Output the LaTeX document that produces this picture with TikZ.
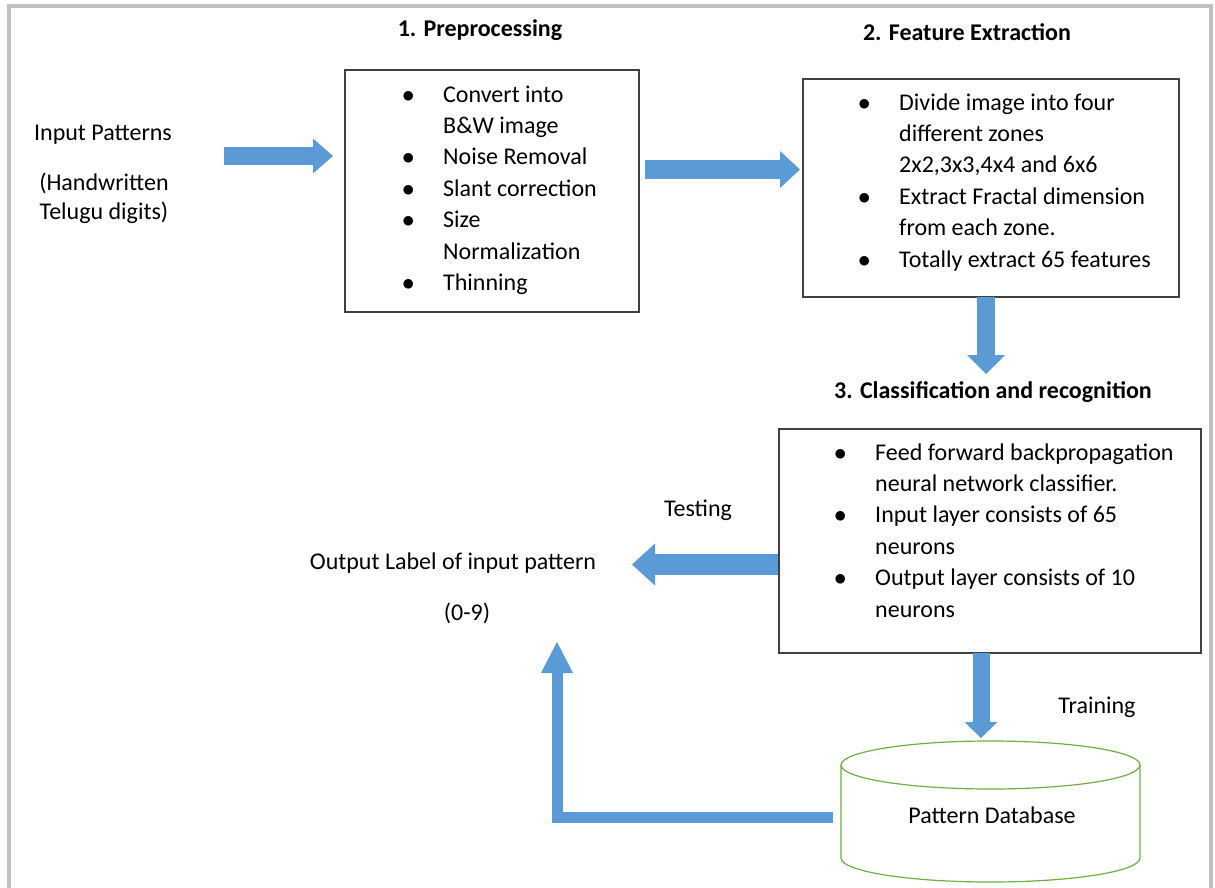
\documentclass[tikz,border=0pt]{standalone}
\usepackage{fontspec}
\setmainfont{Carlito}
\usetikzlibrary{arrows.meta}
\definecolor{arrowblue}{RGB}{91,155,213}
\definecolor{dbgreen}{RGB}{112,173,71}
\definecolor{framegray}{RGB}{192,192,192}

\begin{document}
\begin{tikzpicture}[x=1pt,y=-1pt]

\tikzset{
  every node/.style = {font = \fontsize{24}{31.4}\selectfont},
  TitleStyle/.style = {font = \fontsize{24}{31.4}\selectfont\bfseries},
  BoxStyle/.style = {rectangle, draw = black!75, line width = 1.4pt,
                     inner sep = 0pt},
  ListStyle/.style = {inner sep = 0pt, anchor = north west},
  FatArrow/.style n args = {3}{draw = arrowblue, line width = #1,
     -{Triangle[length = #2, width = #3, line width = 0pt]}},
  DbStyle/.style = {draw = dbgreen, line width = 1.2pt} }

  \useasboundingbox (0,0) rectangle (1215,888);
  \draw[framegray, line width = 4pt] (8.5,892) -- (8.5,6.5) -- (1211,6.5) -- (1211,892);

  \node[TitleStyle] (t1) at (480,30) {1. Preprocessing};
  \node[TitleStyle] (t2) at (967,32) {2. Feature Extraction};
  \node[TitleStyle] (t3) at (993,392) {3. Classification and recognition};

  \node (inp) at (103,135) {Input Patterns};
  \node[align = center, font = \fontsize{24}{29}\selectfont] (hw) at (104,198)
       {(Handwritten\\Telugu digits)};

  \node[BoxStyle, minimum width = 294pt, minimum height = 242pt] (pre) at (492,191) {};
  \node[BoxStyle, minimum width = 376pt, minimum height = 218pt] (fe) at (991,188) {};
  \node[BoxStyle, minimum width = 422pt, minimum height = 224pt] (cls) at (990,541) {};

  \node[ListStyle] (prelist) at (402,80) {\begin{tabular}{@{}p{41pt}@{}l@{}}
    $\bullet$ & Convert into\\
              & B\&W image\\
    $\bullet$ & Noise Removal\\
    $\bullet$ & Slant correction\\
    $\bullet$ & Size\\
              & Normalization\\
    $\bullet$ & Thinning
  \end{tabular}};
  \node[ListStyle] (felist) at (858,88) {\begin{tabular}{@{}p{41pt}@{}l@{}}
    $\bullet$ & Divide image into four\\
              & different zones\\
              & 2x2,3x3,4x4 and 6x6\\
    $\bullet$ & Extract Fractal dimension\\
              & from each zone.\\
    $\bullet$ & Totally extract 65 features
  \end{tabular}};
  \node[ListStyle] (clslist) at (834,438) {\begin{tabular}{@{}p{41pt}@{}l@{}}
    $\bullet$ & Feed forward backpropagation\\
              & neural network classifier.\\
    $\bullet$ & Input layer consists of 65\\
              & neurons\\
    $\bullet$ & Output\ layer consists of 10\\
              & neurons
  \end{tabular}};

  \node (out) at (453,563) {Output Label of input pattern};
  \node (rng) at (467,613) {(0-9)};
  \node (tst) at (698,510) {Testing};
  \node (trn) at (1097,707) {Training};

  % pattern database cylinder
  \node (db) at (992,815) {Pattern Database};
  \draw[DbStyle] (841,765) -- (841,858)
     arc[start angle = 180, end angle = 0, x radius = 149.5, y radius = 24]
     -- (1140,765);
  \draw[DbStyle] (990.5,765) ellipse[x radius = 149.5, y radius = 24];

  \coordinate (a1s) at (224,156);   \coordinate (a1e) at (333,156);
  \coordinate (a2s) at (645,169.5); \coordinate (a2e) at (800,169.5);
  \coordinate (a3s) at (986,297);   \coordinate (a3e) at (986,374);
  \coordinate (a4s) at (778,564.5); \coordinate (a4e) at (632,564.5);
  \coordinate (a5s) at (981,653);   \coordinate (a5e) at (981,738);
  \coordinate (a6s) at (833,817);   \coordinate (a6c) at (557,817);
  \coordinate (a6e) at (557,642);

  \draw[FatArrow = {18pt}{20pt}{35pt}] (a1s) -- (a1e);
  \draw[FatArrow = {19pt}{20pt}{37pt}] (a2s) -- (a2e);
  \draw[FatArrow = {18pt}{19pt}{38pt}] (a3s) -- (a3e);
  \draw[FatArrow = {21pt}{23pt}{42pt}] (a4s) -- (a4e);
  \draw[FatArrow = {17pt}{16pt}{33pt}] (a5s) -- (a5e);
  \draw[FatArrow = {11pt}{31pt}{32pt}] (a6s) -- (a6c) -- (a6e);

\end{tikzpicture}
\end{document}
